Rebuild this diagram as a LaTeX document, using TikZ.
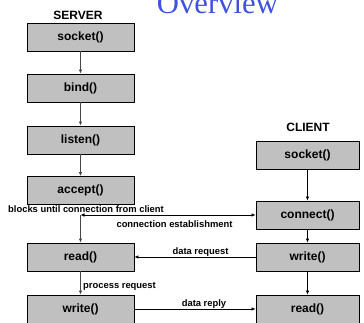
\documentclass[tikz,border=0pt]{standalone}
\usepackage{fontspec}
\setmainfont{Liberation Sans}
\newfontfamily\ovfont{Liberation Serif}
\usepackage{tikz}
\usetikzlibrary{arrows.meta, positioning, calc}
\usepackage{xcolor}
\definecolor{ovblue}{RGB}{64,80,224}
\definecolor{boxgray}{RGB}{192,192,192}
\definecolor{linegray}{RGB}{70,70,70}

\tikzset{
  callbox/.style={draw=black, line width=0.8pt, fill=boxgray, inner sep=0pt,
    minimum height=28pt, font=\fontsize{12}{14}\selectfont\bfseries},
  srvbox/.style={callbox, minimum width=107pt},
  clibox/.style={callbox, minimum width=103pt},
  msg/.style={font=\fontsize{9.4}{11}\selectfont\bfseries, inner sep=0pt},
  flow/.style={-{Latex[length=4pt,width=3.5pt]}, line width=1.2pt, draw=linegray},
  link/.style={-{Latex[length=4pt,width=3.5pt]}, line width=0.7pt, draw=black}
}

\begin{document}
\begin{tikzpicture}[x=1pt, y=-1pt]

  \useasboundingbox (0,0) rectangle (364,323);

  % Title
  \node[font=\ovfont\fontsize{30.7}{32}\selectfont, text=ovblue, anchor=base, inner sep=0pt] (title) at (217.5,13.5) {Overview};

  % Server side
  \node[font=\fontsize{12}{14}\selectfont\bfseries] (server) at (78,15) {SERVER};
  \foreach \n/\y/\t in {ssock/37/socket(), sbind/88/bind(), slist/140/listen(), sacc/190.5/accept(), sread/257/read(), swrite/309/write()}{
    \node[srvbox] (\n) at (80.5,\y) {\t};
  }
  \draw[flow] (ssock) -- (sbind);
  \draw[flow] (sbind) -- (slist);
  \draw[flow] (slist) -- (sacc);
  \draw[flow] (sread) -- (swrite);

  % Client side
  \node[font=\fontsize{12}{14}\selectfont\bfseries] (client) at (308,127) {CLIENT};
  \foreach \n/\y/\t in {csock/155/socket(), cconn/215/connect(), cwrite/257/write(), cread/309/read()}{
    \node[clibox] (\n) at (307.5,\y) {\t};
  }
  \draw[link] (csock) -- (cconn);
  \draw[link] (cconn) -- (cwrite);
  \draw[link] (cwrite) -- (cread);

  % Connection establishment
  \coordinate (blk) at (80.5,215);
  \draw[flow] (blk) -- (sread);
  \draw[link, {Latex[length=4pt,width=3.5pt]}-{Latex[length=4pt,width=3.5pt]}] (blk) -- (cconn);
  \node[msg, fill=white] (blklbl) at (86,209) {blocks until connection from client};
  \node[msg] (connlbl) at (174.5,224) {connection establishment};

  % Data exchange
  \draw[link] (cwrite) -- (sread);
  \node[msg] (reqlbl) at (200.5,252) {data request};
  \node[msg, anchor=west] (proclbl) at (83,286) {process request};
  \draw[link] (swrite) -- (cread);
  \node[msg] (replbl) at (204,304) {data reply};

\end{tikzpicture}
\end{document}
